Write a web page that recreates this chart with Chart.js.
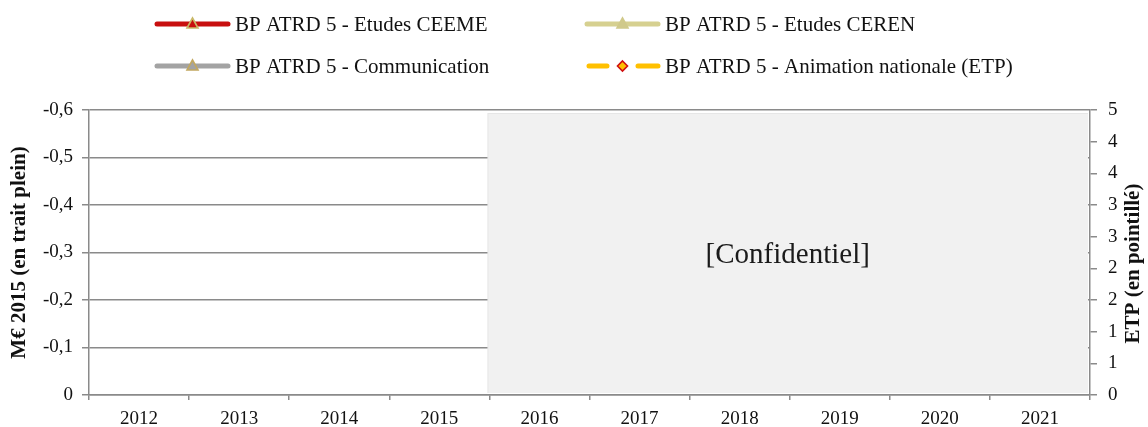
<!DOCTYPE html>
<html>
<head>
<meta charset="utf-8">
<script src="https://cdn.jsdelivr.net/npm/chart.js@4/dist/chart.umd.min.js"></script>
<style>
  html, body { margin: 0; padding: 0; background: #fff; }
  #wrap { width: 1148px; height: 427px; position: relative; }
</style>
</head>
<body>
<div id="wrap"><canvas id="c" width="1148" height="427"></canvas></div>
<script>
// Years on the category axis
const years = ['2012', '2013', '2014', '2015', '2016', '2017', '2018', '2019', '2020', '2021'];

// Series (M€ 2015, left axis) — no published values
const etudesCeeme = [null, null, null, null, null, null, null, null, null, null];
const etudesCeren = [null, null, null, null, null, null, null, null, null, null];
const communication = [null, null, null, null, null, null, null, null, null, null];
// Series (ETP, right axis) — no published values
const animationNationale = [null, null, null, null, null, null, null, null, null, null];

// Axis ranges and tick labels
const leftTicks = [0, -0.1, -0.2, -0.3, -0.4, -0.5, -0.6];
const rightMax = 5;
const rightSteps = 9;
const rightTitle = 'ETP (en pointillé)';

// Years hidden behind the confidential panel
const confidentialYears = ['2016', '2017', '2018', '2019', '2020', '2021'];
const confidentialLabel = '[Confidentiel]';

const FONT = "'Liberation Serif', 'DejaVu Serif', serif";
const GRID = '#8a8a8a';

// Grey panel masking the confidential years
const confidentialPanel = {
  id: 'confidentialPanel',
  beforeDatasetsDraw(chart) {
    const { ctx, chartArea, scales } = chart;
    const x = scales.x;
    const first = years.indexOf(confidentialYears[0]);
    const last = years.indexOf(confidentialYears[confidentialYears.length - 1]);
    const half = (x.getPixelForValue(1) - x.getPixelForValue(0)) / 2;
    const left = x.getPixelForValue(first) - half - 2;
    const right = x.getPixelForValue(last) + half - 2;
    const top = chartArea.top + 3;
    const bottom = chartArea.bottom - 2;
    ctx.save();
    ctx.fillStyle = '#e6e6e6';
    ctx.fillRect(left, top, right - left, bottom - top);
    ctx.fillStyle = '#f1f1f1';
    ctx.fillRect(left + 1, top + 1, right - left - 1, bottom - top - 1);
    ctx.fillStyle = '#1a1a1a';
    ctx.font = '29px ' + FONT;
    ctx.textAlign = 'center';
    ctx.textBaseline = 'middle';
    ctx.fillText(confidentialLabel, (left + right) / 2, (top + bottom) / 2 + 2);
    ctx.restore();
  }
};

// Right-hand axis title, reading bottom to top
const rightAxisTitle = {
  id: 'rightAxisTitle',
  afterDraw(chart) {
    const { ctx, chartArea } = chart;
    ctx.save();
    ctx.translate(1134, (chartArea.top + chartArea.bottom) / 2 + 11);
    ctx.rotate(-Math.PI / 2);
    ctx.fillStyle = '#111';
    ctx.font = 'bold 21px ' + FONT;
    ctx.textAlign = 'center';
    ctx.textBaseline = 'middle';
    ctx.fillText(rightTitle, 0, 0);
    ctx.restore();
  }
};

// Two-column legend drawn above the plot
const gridLegend = {
  id: 'gridLegend',
  afterDraw(chart) {
    const { ctx } = chart;
    const cols = [157, 587];
    const rows = [24, 66];
    const lineLen = 71;
    chart.data.datasets.forEach((ds, i) => {
      const x0 = cols[i % 2];
      const y = rows[Math.floor(i / 2)];
      ctx.save();
      ctx.strokeStyle = ds.borderColor;
      ctx.lineWidth = 5;
      ctx.lineCap = 'round';
      if (ds.borderDash) {
        ctx.beginPath();
        ctx.moveTo(x0 + 2, y); ctx.lineTo(x0 + 20, y);
        ctx.moveTo(x0 + lineLen - 20, y); ctx.lineTo(x0 + lineLen, y);
        ctx.stroke();
      } else {
        ctx.beginPath();
        ctx.moveTo(x0, y); ctx.lineTo(x0 + lineLen, y);
        ctx.stroke();
      }
      const mx = x0 + lineLen / 2;
      ctx.fillStyle = ds.pointBackgroundColor;
      ctx.strokeStyle = ds.pointBorderColor;
      ctx.lineWidth = 1.6;
      ctx.lineCap = 'butt';
      ctx.beginPath();
      if (ds.pointStyle === 'rectRot') {
        ctx.moveTo(mx, y - 5); ctx.lineTo(mx + 5, y); ctx.lineTo(mx, y + 5); ctx.lineTo(mx - 5, y);
      } else {
        ctx.moveTo(mx, y - 6); ctx.lineTo(mx + 5.5, y + 4); ctx.lineTo(mx - 5.5, y + 4);
      }
      ctx.closePath();
      ctx.fill();
      ctx.stroke();
      ctx.fillStyle = '#111';
      ctx.font = '21px ' + FONT;
      ctx.textAlign = 'left';
      ctx.textBaseline = 'middle';
      ctx.fillText(ds.label, x0 + lineLen + 7, y + 1);
      ctx.restore();
    });
  }
};

new Chart(document.getElementById('c'), {
  type: 'line',
  data: {
    labels: years,
    datasets: [
      { label: 'BP ATRD 5 - Etudes CEEME', data: etudesCeeme, yAxisID: 'y',
        borderColor: '#c80f0f', borderWidth: 4, pointStyle: 'triangle',
        pointBackgroundColor: '#c80f0f', pointBorderColor: '#c9b867' },
      { label: 'BP ATRD 5 - Etudes CEREN', data: etudesCeren, yAxisID: 'y',
        borderColor: '#d6d090', borderWidth: 4, pointStyle: 'triangle',
        pointBackgroundColor: '#d0c98a', pointBorderColor: '#d0c98a' },
      { label: 'BP ATRD 5 - Communication', data: communication, yAxisID: 'y',
        borderColor: '#a3a3a3', borderWidth: 4, pointStyle: 'triangle',
        pointBackgroundColor: '#a3a3a3', pointBorderColor: '#c2a860' },
      { label: 'BP ATRD 5 - Animation nationale (ETP)', data: animationNationale, yAxisID: 'y1',
        borderColor: '#ffc000', borderWidth: 4, borderDash: [12, 8], pointStyle: 'rectRot',
        pointBackgroundColor: '#ffc000', pointBorderColor: '#d01010' }
    ]
  },
  options: {
    responsive: false,
    animation: false,
    layout: { padding: { top: 110, left: 0, right: 0, bottom: 0 } },
    plugins: { legend: { display: false }, tooltip: { enabled: false } },
    scales: {
      x: {
        offset: true,
        grid: { offset: true, drawOnChartArea: false, color: GRID, lineWidth: 1.5, tickLength: 5 },
        border: { color: GRID, width: 1.5 },
        ticks: { color: '#111', font: { family: FONT, size: 19 }, padding: 8 },
        afterFit(s) { s.height = 32; }
      },
      y: {
        position: 'left',
        reverse: true,
        min: -0.6,
        max: 0,
        afterBuildTicks(s) { s.ticks = leftTicks.map(v => ({ value: v })); },
        grid: { color: GRID, lineWidth: 1.5, tickLength: 7 },
        border: { color: GRID, width: 1.5 },
        ticks: {
          color: '#111', font: { family: FONT, size: 19 }, padding: 9,
          callback: v => (v === 0 ? '0' : v.toFixed(1).replace('.', ','))
        },
        title: { display: true, text: 'M€ 2015 (en trait plein)', color: '#111',
                 font: { family: FONT, size: 21, weight: 'bold' }, padding: { top: 7, bottom: 0 } },
        afterFit(s) { s.width = 89; }
      },
      y1: {
        position: 'right',
        min: 0,
        max: rightMax,
        afterBuildTicks(s) {
          const t = [];
          for (let i = 0; i <= rightSteps; i++) t.push({ value: i * rightMax / rightSteps });
          s.ticks = t;
        },
        grid: { drawOnChartArea: false, color: GRID, lineWidth: 1.5, tickLength: 7 },
        border: { color: GRID, width: 1.5 },
        ticks: { color: '#111', font: { family: FONT, size: 19 }, padding: 11,
                 callback: v => String(Math.round(v)) },
        afterFit(s) { s.width = 58; }
      }
    }
  },
  plugins: [confidentialPanel, gridLegend, rightAxisTitle]
});
</script>
</body>
</html>
